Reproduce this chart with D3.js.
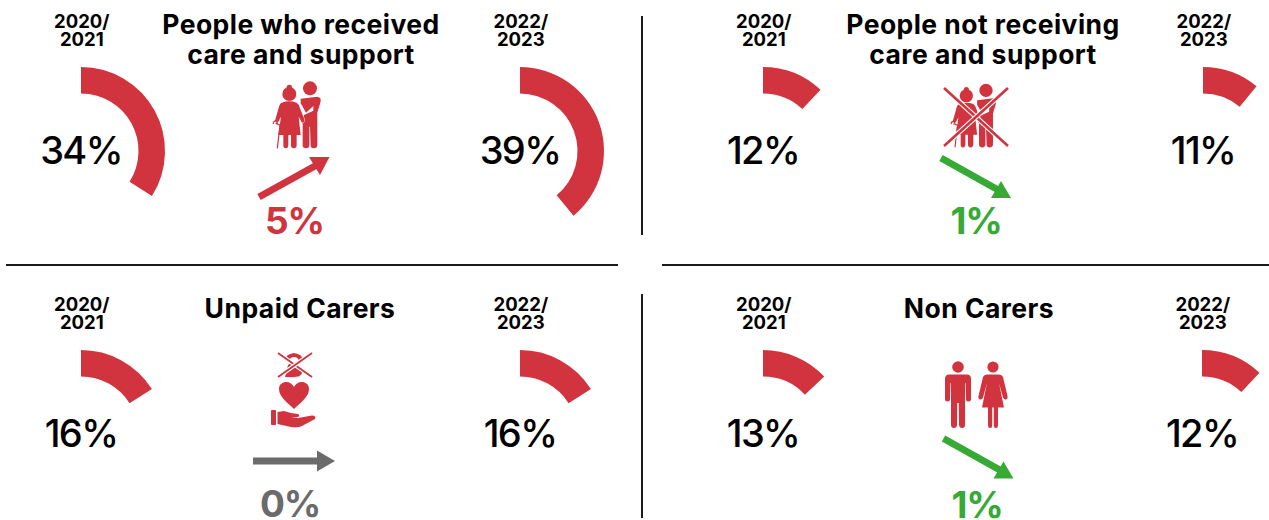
<!DOCTYPE html>
<html>
<head>
<meta charset="utf-8">
<script src="https://cdn.jsdelivr.net/npm/d3@7"></script>
<style>
  html, body { margin: 0; padding: 0; background: #fff; }
  svg { display: block; }
  text { font-family: Inter, Lato, sans-serif; fill: #000; }
</style>
</head>
<body>
<svg id="chart" width="1269" height="520"></svg>
<script>
// Share of each group, in percent, for the two survey periods
const periods = ["2020/2021", "2022/2023"];
const groupNames = [
  ["People who received", "care and support"],
  ["People not receiving", "care and support"],
  ["Unpaid Carers"],
  ["Non Carers"]
];
const earlier = [34, 12, 16, 13];
const later = [39, 11, 16, 12];
const changes = [5, 1, 0, 1];
const trends = ["up", "down", "flat", "down"];

const RED = "#d1343e", GREEN = "#37a935", GREY = "#6b6b6b";
const trendColour = { up: RED, down: GREEN, flat: GREY };

// Panel layout: gauge centres, title centre and the anchor of each trend arrow
const panels = [
  { left: 81, right: 520, cy: 151, titleX: 301, titleY: 34, arrowX: 294.5, arrowY: 177, labelX: 294.5, labelY: 234, icon: "couple" },
  { left: 763, right: 1203, cy: 151, titleX: 983, titleY: 34, arrowX: 976, arrowY: 178, labelX: 976, labelY: 234, icon: "couple-x" },
  { left: 81, right: 520, cy: 434, titleX: 300, titleY: 318, arrowX: 294, arrowY: 461, labelX: 290, labelY: 517, icon: "giver" },
  { left: 763, right: 1202, cy: 434, titleX: 979, titleY: 318, arrowX: 978.5, arrowY: 458.5, labelX: 977, labelY: 517.5, icon: "pair" }
];

const svg = d3.select("#chart");

// Percent to angle around a full circle, starting from twelve o'clock
const angle = d3.scaleLinear().domain([0, 100]).range([0, 2 * Math.PI]);
const arc = d3.arc().innerRadius(57.5).outerRadius(84).startAngle(0);

// Divider rules between the four panels
const rules = [
  [642, 16, 642, 235], [642, 294, 642, 518],
  [6, 265, 618, 265], [662, 265, 1269, 265]
];
svg.append("g").selectAll("line").data(rules).join("line")
  .attr("x1", d => d[0]).attr("y1", d => d[1])
  .attr("x2", d => d[2]).attr("y2", d => d[3])
  .attr("stroke", "#1a1a1a").attr("stroke-width", 2);

// Pictograms, drawn in their own units around their own origin
const icons = {
  couple(g) {
    const c = g.append("g").attr("fill", RED).attr("transform", "scale(0.3333)");
    // carer
    c.append("circle").attr("cx", 240).attr("cy", 55).attr("r", 21);
    c.append("path").attr("d", "M212 86 L262 80 Q276 82 271 98 L262 128 L262 225 Q262 235 251 235 Q242 235 242 225 L240 170 L238 170 L238 225 Q238 235 228 235 Q218 235 218 225 L218 150 L222 135 L250 122 L250 108 L228 128 L212 100 Z");
    // older woman, kept apart from the carer by a thin white edge
    c.append("circle").attr("cx", 178).attr("cy", 72).attr("r", 21);
    c.append("circle").attr("cx", 178).attr("cy", 52).attr("r", 8);
    c.append("path")
      .attr("d", "M155 98 Q178 90 200 98 Q207 102 210 115 L224 150 Q224 158 216 158 L206 140 L212 195 L200 195 L200 225 Q200 235 191 235 Q183 235 183 225 L183 195 L175 195 L175 225 Q175 235 167 235 Q160 235 160 225 L160 195 L145 195 L153 140 L145 155 Q138 158 135 152 L147 110 Q149 100 155 98 Z")
      .attr("stroke", "#fff").attr("stroke-width", 3).attr("paint-order", "stroke");
    // walking stick
    c.append("path").attr("d", "M130 162 Q130 152 138 153 L143 160 M137 160 L150 165 L142 235")
      .attr("fill", "none").attr("stroke", RED).attr("stroke-width", 3.6);
  },
  "couple-x"(g) {
    g.call(icons.couple);
  },
  giver(g) {
    const c = g.append("g").attr("fill", RED);
    // telephone handset with base
    c.append("path").attr("d", "M-9 8 Q-9 1 0 0 Q9 1 9 8 L5 8 Q4 4 0 4 Q-4 4 -5 8 Z");
    c.append("path").attr("d", "M-6 12 Q-3 9 5 9 L3 13 L-1 15 L8 15 Q10 24 0 24 L-9 24 Q-7 17 -6 12 Z");
    // heart
    c.append("path").attr("d", "M0 56 C-6 50 -15 44 -15 36 C-15 31 -11 29 -8 29 C-4 29 -1.5 31 0 34 C1.5 31 4 29 8 29 C11 29 15 31 15 36 C15 44 6 50 0 56 Z");
    // open hand with cuff
    c.append("rect").attr("x", -23).attr("y", 57).attr("width", 5).attr("height", 15).attr("rx", 0.8);
    c.append("path").attr("d", "M-16.5 59 L-10 58 L-3 60 L4 61 Q6.5 62.5 4 64 L-3 64 L4 65 L18 62.5 Q22.5 62.5 21 66 L8 73 Q4 75 -3 74 L-16.5 71 Z");
  },
  pair(g) {
    const c = g.append("g").attr("fill", RED);
    // man
    c.append("circle").attr("cx", 0).attr("cy", 0).attr("r", 5.8);
    c.append("path").attr("d", "M-9 7.5 L9 7.5 Q13 7.5 13 12 L13 32 Q13 34.5 10.5 34.5 Q8 34.5 8 32 L7.5 16 L7 16 L7 58 Q7 61 4.2 61 Q1.2 61 1 58 L0.8 36 L-0.8 36 L-1 58 Q-1.2 61 -4.2 61 Q-7 61 -7 58 L-7 16 L-7.5 16 L-8 32 Q-8 34.5 -10.5 34.5 Q-13 34.5 -13 32 L-13 12 Q-13 7.5 -9 7.5 Z");
    // woman
    c.append("circle").attr("cx", 35).attr("cy", 0).attr("r", 5.6);
    c.append("path").attr("d", "M29 7.5 L41 7.5 Q44 7.5 45 10 L49.5 29 Q50 32 48 32.5 Q46 33 45 30.5 L41 16 L46 40.5 L40 40.5 L40 58.5 Q40 61 37.8 61 Q35.8 61 35.8 58.5 L35.8 40.5 L34.2 40.5 L34.2 58.5 Q34.2 61 32.2 61 Q30 61 30 58.5 L30 40.5 L24 40.5 L29 16 L25 30.5 Q24 33 22 32.5 Q20 32 20.5 29 L25 10 Q26 7.5 29 7.5 Z");
  }
};
const iconOrigin = {
  couple: [230, 70, 1],
  "couple-x": [910, 73, 0.95],
  giver: [294, 353, 1],
  pair: [958, 367, 1]
};

// Trend arrow geometry for each direction, relative to the arrow's anchor
const arrowShape = {
  up: { tail: [-35.5, 20], neck: [25, -13.5], head: [[35, -20], [14.5, -20], [25.5, -2]] },
  down: { tail: [-35, -20], neck: [25, 13.5], head: [[35, 20], [15, 20], [25, 3]] },
  flat: { tail: [-41, 0], neck: [25, 0], head: [[41, 0], [23, -10.5], [23, 10.5]] }
};

// Two red strokes with a white halo across a pictogram
function crossOut(g, a, b, width) {
  [a, b].forEach(seg => {
    const line = d3.line()(seg);
    g.append("path").attr("d", line).attr("stroke", "#fff").attr("stroke-width", width + 2.4).attr("fill", "none");
    g.append("path").attr("d", line).attr("stroke", RED).attr("stroke-width", width).attr("fill", "none");
  });
}

panels.forEach((p, i) => {
  const g = svg.append("g");

  // Gauges for the two periods
  [[p.left, earlier[i]], [p.right, later[i]]].forEach(([cx, v], k) => {
    g.append("path")
      .attr("transform", `translate(${cx},${p.cy})`)
      .attr("d", arc({ endAngle: angle(v) }))
      .attr("fill", RED);
    g.append("text")
      .attr("x", cx).attr("y", p.cy + 13)
      .attr("text-anchor", "middle")
      .attr("font-size", 38).attr("font-weight", 500).attr("letter-spacing", -1.6)
      .text(v + "%");

    const [a, b] = [periods[k].slice(0, 5), periods[k].slice(5)];
    const top = i < 2 ? 28 : 311;
    g.append("text").attr("x", cx + 0.8).attr("y", top)
      .attr("text-anchor", "middle").attr("font-size", 18.5).attr("font-weight", 700).text(a);
    g.append("text").attr("x", cx + 0.8).attr("y", top + 17.5)
      .attr("text-anchor", "middle").attr("font-size", 18.5).attr("font-weight", 700).text(b);
  });

  // Group title
  groupNames[i].forEach((line, k) => {
    g.append("text")
      .attr("x", p.titleX).attr("y", p.titleY + k * 30)
      .attr("text-anchor", "middle")
      .attr("font-size", 26.5).attr("font-weight", 700).attr("letter-spacing", 0.45)
      .text(line);
  });

  // Pictogram
  const [ox, oy, s] = iconOrigin[p.icon];
  const ig = g.append("g").attr("transform", `translate(${ox},${oy}) scale(${s})`);
  icons[p.icon](ig);
  if (p.icon === "couple-x") {
    crossOut(g, [[944, 88], [1008, 146]], [[1008, 88], [944, 146]], 2.6);
  }
  if (p.icon === "giver") {
    crossOut(g, [[278, 353], [312, 377]], [[312, 353], [278, 377]], 1.8);
  }

  // Trend arrow and the size of the change
  const colour = trendColour[trends[i]];
  const shape = arrowShape[trends[i]];
  const ag = g.append("g").attr("transform", `translate(${p.arrowX},${p.arrowY})`);
  ag.append("line")
    .attr("x1", shape.tail[0]).attr("y1", shape.tail[1])
    .attr("x2", shape.neck[0]).attr("y2", shape.neck[1])
    .attr("stroke", colour).attr("stroke-width", 7);
  ag.append("path")
    .attr("d", d3.line()(shape.head) + "Z")
    .attr("fill", colour);
  g.append("text")
    .attr("x", p.labelX).attr("y", p.labelY)
    .attr("text-anchor", "middle")
    .attr("font-size", 37).attr("font-weight", 700).attr("letter-spacing", -1.2)
    .style("fill", colour)
    .text(changes[i] + "%");
});
</script>
</body>
</html>
